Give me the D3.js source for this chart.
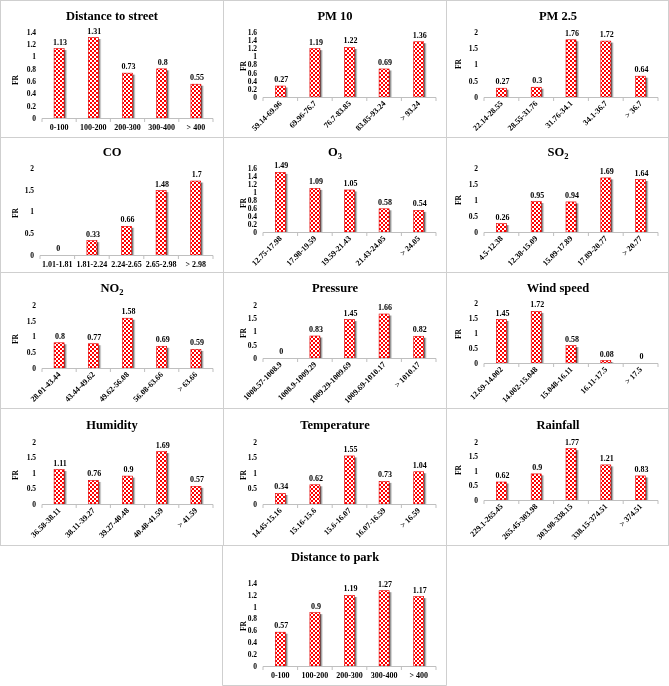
<!DOCTYPE html>
<html><head><meta charset="utf-8">
<script src="https://cdn.jsdelivr.net/npm/d3@7"></script>
<style>body{margin:0;background:#fff}svg{display:block;will-change:transform}</style>
</head><body>
<script>
// ---------- data ----------
const dsCats = ["0-100","100-200","200-300","300-400","> 400"];
const dsVals = [1.13,1.31,0.73,0.8,0.55];
const pm10Cats = ["59.14-69.96","69.96-76.7","76.7-83.85","83.85-93.24","> 93.24"];
const pm10Vals = [0.27,1.19,1.22,0.69,1.36];
const pm25Cats = ["22.14-28.55","28.55-31.76","31.76-34.1","34.1-36.7","> 36.7"];
const pm25Vals = [0.27,0.3,1.76,1.72,0.64];
const coCats = ["1.01-1.81","1.81-2.24","2.24-2.65","2.65-2.98","> 2.98"];
const coVals = [0,0.33,0.66,1.48,1.7];
const o3Cats = ["12.75-17.98","17.98-19.59","19.59-21.43","21.43-24.05","> 24.05"];
const o3Vals = [1.49,1.09,1.05,0.58,0.54];
const so2Cats = ["4.5-12.38","12.38-15.09","15.09-17.89","17.89-20.77","> 20.77"];
const so2Vals = [0.26,0.95,0.94,1.69,1.64];
const no2Cats = ["28.01-43.44","43.44-49.62","49.62-56.08","56.08-63.66","> 63.66"];
const no2Vals = [0.8,0.77,1.58,0.69,0.59];
const pressureCats = ["1008.57-1008.9","1008.9-1009.29","1009.29-1009.69","1009.69-1010.17","> 1010.17"];
const pressureVals = [0,0.83,1.45,1.66,0.82];
const windCats = ["12.69-14.002","14.002-15.048","15.048-16.11","16.11-17.5","> 17.5"];
const windVals = [1.45,1.72,0.58,0.08,0];
const humidityCats = ["36.58-38.11","38.11-39.27","39.27-40.48","40.48-41.59","> 41.59"];
const humidityVals = [1.11,0.76,0.9,1.69,0.57];
const tempCats = ["14.45-15.16","15.16-15.6","15.6-16.07","16.07-16.59","> 16.59"];
const tempVals = [0.34,0.62,1.55,0.73,1.04];
const rainCats = ["229.1-265.45","265.45-303.98","303.98-338.15","338.15-374.51","> 374.51"];
const rainVals = [0.62,0.9,1.77,1.21,0.83];
const parkCats = ["0-100","100-200","200-300","300-400","> 400"];
const parkVals = [0.57,0.9,1.19,1.27,1.17];

const ticks14 = [0,0.2,0.4,0.6,0.8,1,1.2,1.4];
const ticks16 = [0,0.2,0.4,0.6,0.8,1,1.2,1.4,1.6];
const ticks2 = [0,0.5,1,1.5,2];

// ---------- layout (positions only) ----------
const FONT = "Liberation Serif";
const colX = [0,223,446];
const panels = [
  {t:"Distance to street", c:dsCats, v:dsVals, ticks:ticks14, col:0, x0:42, x1:213, y0:118, yT:32, ty:16, rot:false, fy:80},
  {t:"PM 10", c:pm10Cats, v:pm10Vals, ticks:ticks16, col:1, x0:40, x1:213, y0:97, yT:32, ty:16, rot:true, fy:66},
  {t:"PM 2.5", c:pm25Cats, v:pm25Vals, ticks:ticks2, col:2, x0:38, x1:212, y0:97, yT:32, ty:16, rot:true, fy:64},
  {t:"CO", c:coCats, v:coVals, ticks:ticks2, col:0, x0:40, x1:213, y0:255, yT:168, ty:152, rot:false, fy:213},
  {t:"O", sub:"3", c:o3Cats, v:o3Vals, ticks:ticks16, col:1, x0:40, x1:213, y0:232, yT:168, ty:152, rot:true, fy:203},
  {t:"SO", sub:"2", c:so2Cats, v:so2Vals, ticks:ticks2, col:2, x0:38, x1:212, y0:232, yT:168, ty:152, rot:true, fy:200},
  {t:"NO", sub:"2", c:no2Cats, v:no2Vals, ticks:ticks2, col:0, x0:42, x1:213, y0:368, yT:305, ty:288, rot:true, fy:339},
  {t:"Pressure", c:pressureCats, v:pressureVals, ticks:ticks2, col:1, x0:40, x1:213, y0:358, yT:305, ty:288, rot:true, fy:333},
  {t:"Wind speed", c:windCats, v:windVals, ticks:ticks2, col:2, x0:38, x1:212, y0:363, yT:303, ty:288, rot:true, fy:334},
  {t:"Humidity", c:humidityCats, v:humidityVals, ticks:ticks2, col:0, x0:42, x1:213, y0:504, yT:442, ty:425, rot:true, fy:475},
  {t:"Temperature", c:tempCats, v:tempVals, ticks:ticks2, col:1, x0:40, x1:213, y0:504, yT:442, ty:425, rot:true, fy:475},
  {t:"Rainfall", c:rainCats, v:rainVals, ticks:ticks2, col:2, x0:38, x1:212, y0:500, yT:442, ty:425, rot:true, fy:470},
  {t:"Distance to park", c:parkCats, v:parkVals, ticks:ticks14, col:1, x0:40, x1:213, y0:666, yT:583, ty:557, rot:false, fy:626}
];
const fyOff = [15,20,12];

const W = 669, H = 686;
const svg = d3.select("body").append("svg").attr("width",W).attr("height",H)
  .attr("font-family",FONT);

const defs = svg.append("defs");
const pat = defs.append("pattern").attr("id","checker").attr("width",4).attr("height",4)
  .attr("patternUnits","userSpaceOnUse");
pat.append("rect").attr("width",4).attr("height",4).attr("fill","#fff");
pat.append("rect").attr("width",2).attr("height",2).attr("fill","#f00");
pat.append("rect").attr("x",2).attr("y",2).attr("width",2).attr("height",2).attr("fill","#f00");
const sg = defs.append("linearGradient").attr("id","shad").attr("x1",0).attr("x2",1).attr("y1",0).attr("y2",0);
sg.append("stop").attr("offset","0%").attr("stop-color","#222");
sg.append("stop").attr("offset","100%").attr("stop-color","#bbb").attr("stop-opacity",0.3);

// ---------- table borders ----------
const bc = "#cfcfcf";
const rowsY = [0.5,137.5,272.5,408.5,545.5];
rowsY.forEach(y=>svg.append("line").attr("x1",0).attr("x2",W).attr("y1",y).attr("y2",y).attr("stroke",bc));
[0.5,223.5,446.5,668.5].forEach(x=>svg.append("line").attr("x1",x).attr("x2",x).attr("y1",0).attr("y2",545.5).attr("stroke",bc));
[222.5,446.5].forEach(x=>svg.append("line").attr("x1",x).attr("x2",x).attr("y1",545.5).attr("y2",685.5).attr("stroke",bc));
svg.append("line").attr("x1",222.5).attr("x2",446.5).attr("y1",685.5).attr("y2",685.5).attr("stroke",bc);

const fmt = v => String(+v.toFixed(2));
const txt = (sel) => sel.attr("font-family",FONT).attr("font-weight","bold").attr("fill","#000");

panels.forEach(p=>{
  const ox = colX[p.col];
  const g = svg.append("g").attr("transform",`translate(${ox},0)`);
  const ymax = p.ticks[p.ticks.length-1];
  const y = d3.scaleLinear().domain([0,ymax]).range([p.y0,p.yT]);
  const x = d3.scaleBand().domain(p.c).range([p.x0,p.x1]).paddingInner(0).paddingOuter(0);
  const bw = 10;

  // title
  const tt = g.append("text").attr("x",112).attr("y",p.ty).attr("dy","0.35em")
    .attr("text-anchor","middle").attr("font-size",12.5).text(p.t).call(txt);
  if (p.sub) tt.append("tspan").attr("font-size",8.5).attr("dy",3).text(p.sub);

  // y axis labels
  const yAxis = d3.axisLeft(y).tickValues(p.ticks).tickFormat(fmt).tickSize(0).tickPadding(6);
  const ya = g.append("g").attr("transform",`translate(${p.x0},0)`).call(yAxis);
  ya.select(".domain").remove();
  ya.attr("font-family",FONT);
  ya.selectAll("text").attr("font-size",7.5).call(txt);

  // FR label
  g.append("text").attr("transform",`translate(${fyOff[p.col]},${p.fy}) rotate(-90)`)
    .attr("text-anchor","middle").attr("dy","0.35em").attr("font-size",7.5).text("FR").call(txt);

  // bars: shadow + patterned bar
  const bars = g.append("g");
  p.c.forEach((c,i)=>{
    const v = p.v[i];
    const cx = x(c) + x.bandwidth()/2;
    const top = y(v), h = p.y0 - top;
    if (h > 0) {
      bars.append("rect").attr("x",cx - bw/2 + bw).attr("y",top+1.5).attr("width",3)
        .attr("height",Math.max(0,h-0.5)).attr("fill","url(#shad)");
      bars.append("rect").attr("x",cx - bw/2).attr("y",top).attr("width",bw).attr("height",h)
        .attr("fill","url(#checker)").attr("stroke","#e00000").attr("stroke-width",0.6);
    }
    g.append("text").attr("x",cx+1).attr("y",top-4).attr("text-anchor","middle")
      .attr("font-size",8).text(fmt(v)).call(txt);
  });

  // x axis
  const xa = g.append("g").attr("transform",`translate(0,${p.y0})`);
  xa.append("line").attr("x1",p.x0).attr("x2",p.x1).attr("y1",0.5).attr("y2",0.5).attr("stroke","#bfbfbf");
  const bounds = p.c.map(c=>x(c)).concat([p.x1]);
  bounds.forEach(b=>xa.append("line").attr("x1",b).attr("x2",b).attr("y1",0.5).attr("y2",4).attr("stroke","#bfbfbf"));
  p.c.forEach(c=>{
    const cx = x(c) + x.bandwidth()/2;
    if (p.rot) {
      xa.append("text").attr("transform",`translate(${cx+2},${7}) rotate(-45)`)
        .attr("text-anchor","end").attr("font-size",8).text(c).call(txt);
    } else {
      xa.append("text").attr("x",cx).attr("y",12).attr("text-anchor","middle")
        .attr("font-size",8).text(c).call(txt);
    }
  });
});
</script>
</body></html>
